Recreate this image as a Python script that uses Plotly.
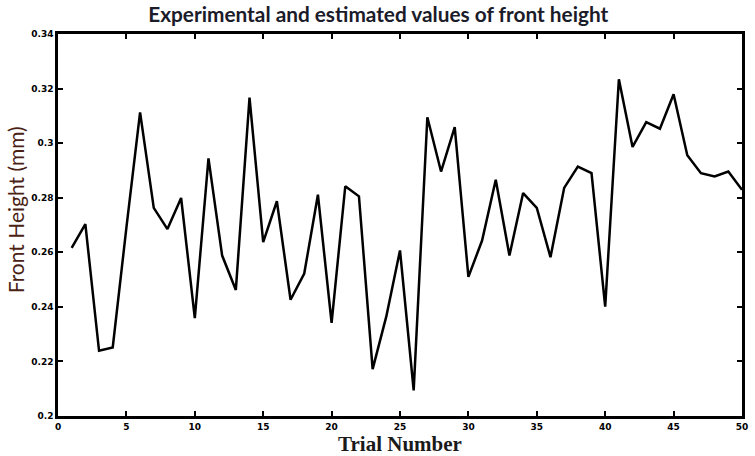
import plotly.graph_objects as go

trial = list(range(1, 51))
front_height = [
    0.2616, 0.2703, 0.2239, 0.2251, 0.2690, 0.3113, 0.2763, 0.2685, 0.2799, 0.2359,
    0.2944, 0.2588, 0.2462, 0.3167, 0.2637, 0.2787, 0.2426, 0.2522, 0.2811, 0.2341,
    0.2842, 0.2805, 0.2172, 0.2365, 0.2607, 0.2094, 0.3095, 0.2896, 0.3059, 0.2510,
    0.2643, 0.2866, 0.2588, 0.2817, 0.2763, 0.2582, 0.2836, 0.2914, 0.2890, 0.2401,
    0.3234, 0.2986, 0.3077, 0.3053, 0.3179, 0.2956, 0.2890, 0.2878, 0.2896, 0.2829,
]
x_ticks = [0, 5, 10, 15, 20, 25, 30, 35, 40, 45, 50]
y_ticks = [0.2, 0.22, 0.24, 0.26, 0.28, 0.3, 0.32, 0.34]
y_ticktext = ["0.2", "0.22", "0.24", "0.26", "0.28", "0.3", "0.32", "0.34"]

fig = go.Figure()
fig.add_trace(go.Scatter(x=trial, y=front_height, mode="lines",
                         line=dict(color="black", width=2.5)))

fig.update_layout(
    width=755, height=456,
    margin=dict(l=58, r=7, t=34, b=35),
    paper_bgcolor="white", plot_bgcolor="white",
    showlegend=False,
    title=dict(text="<b>Experimental and estimated values of front height</b>",
               x=0.501, xanchor="center", y=0.968, yanchor="middle",
               font=dict(family="Lato", size=20.8, color="#1b1b2a")),
    annotations=[dict(text="Front Height (mm)", textangle=-90,
                      xref="paper", yref="paper", x=-0.062, y=0.54,
                      xanchor="center", yanchor="middle", showarrow=False,
                      font=dict(family="Lato", size=21, color="#4a2214"))],
)
fig.update_xaxes(
    range=[0, 50], tickvals=x_ticks, ticktext=[str(v) for v in x_ticks],
    showgrid=False, zeroline=False,
    showline=True, linecolor="black", linewidth=2.5, mirror="ticks",
    ticks="inside", ticklen=5, tickwidth=2, tickcolor="black",
    tickfont=dict(family="DejaVu Sans", size=9, color="black", weight="bold"),
    title=dict(text="<b>Trial Number</b>", standoff=3,
               font=dict(family="Liberation Serif", size=21, color="#1a1a1a")),
)
fig.update_yaxes(
    range=[0.2, 0.34], tickvals=y_ticks, ticktext=y_ticktext,
    showgrid=False, zeroline=False,
    showline=True, linecolor="black", linewidth=2.5, mirror="ticks",
    ticks="inside", ticklen=5, tickwidth=2, tickcolor="black",
    tickfont=dict(family="DejaVu Sans", size=9, color="black", weight="bold"),
)

fig.write_html("out.html")
